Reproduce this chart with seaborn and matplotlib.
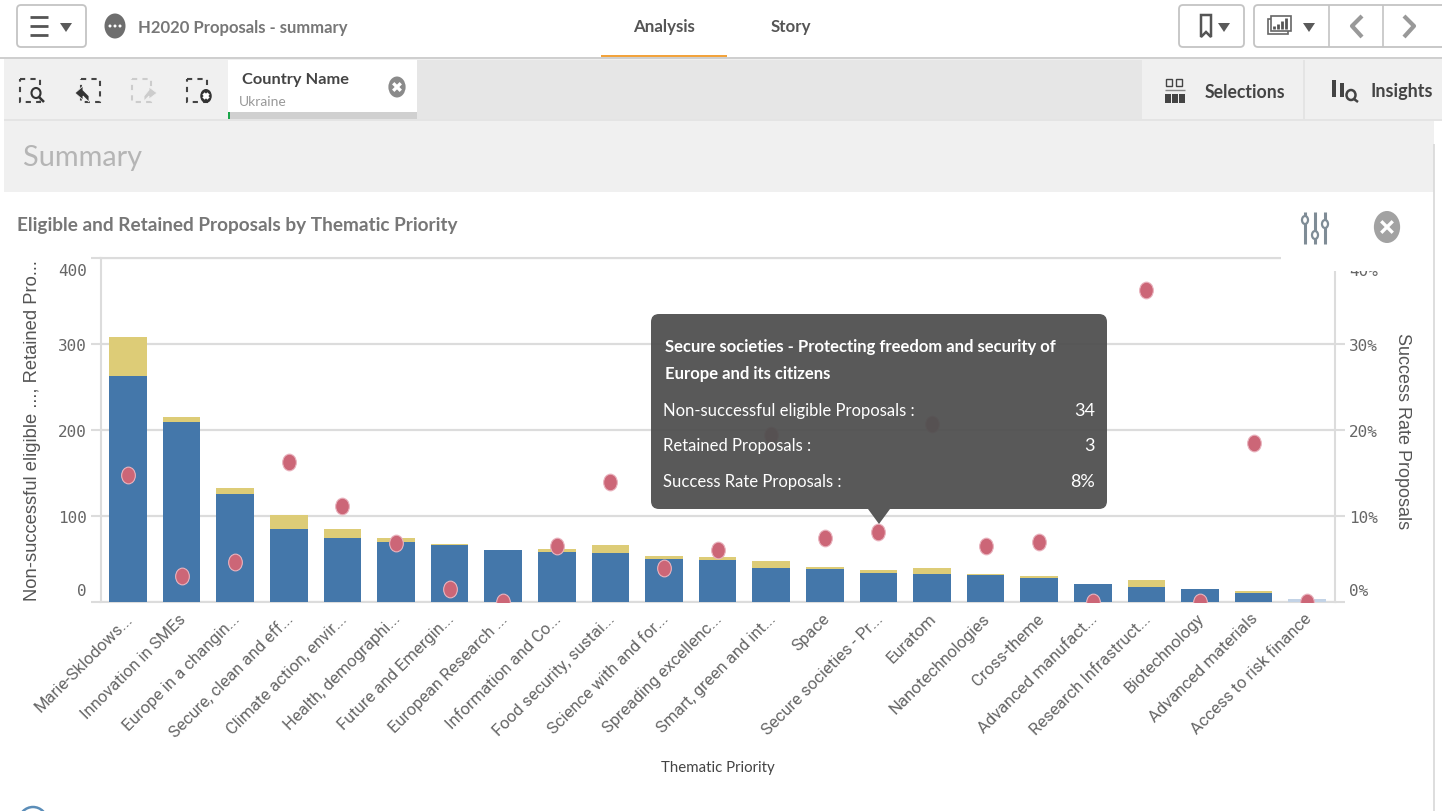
import matplotlib
matplotlib.use('Agg')
import matplotlib.pyplot as plt
from matplotlib.patches import Rectangle, Ellipse, FancyBboxPatch, Polygon
from matplotlib.path import Path
from matplotlib.transforms import Affine2D, ScaledTranslation
import pandas as pd
import seaborn as sns

# Values
priorities = ['Marie-Sklodows...', 'Innovation in SMEs', 'Europe in a changin...',
              'Secure, clean and eff...', 'Climate action, envir...', 'Health, demographi...',
              'Future and Emergin...', 'European Research ...', 'Information and Co...',
              'Food security, sustai...', 'Science with and for...', 'Spreading excellenc...',
              'Smart, green and int...', 'Space', 'Secure societies - Pr...', 'Euratom',
              'Nanotechnologies', 'Cross-theme', 'Advanced manufact...', 'Research Infrastruct...',
              'Biotechnology', 'Advanced materials', 'Access to risk finance']
non_successful = [263, 209, 126, 85, 75, 70, 66, 60, 58, 57, 50, 49, 39, 38, 34, 32, 31, 28, 21, 17, 15, 10, 3]
retained = [45, 6, 6, 16, 10, 5, 1, 0, 4, 9, 3, 3, 9, 3, 3, 8, 2, 2, 0, 9, 0, 3, 0]
success_rate = [14.8, 3.0, 4.6, 16.3, 11.2, 6.9, 1.5, 0, 6.5, 14.0, 4.0, 6.0, 19.4, 7.5, 8.1, 20.7,
                6.5, 7.0, 0, 36.3, 0, 18.5, 0]
left_ticks = [0, 100, 200, 300, 400]
right_ticks = [0, 10, 20, 30, 40]

BLUE = '#4477aa'
FADED = '#c3d3e6'
YELLOW = '#ddcc77'
PINK = '#cc6677'
GRID = '#dcdcdc'
NARROW = ['Lato', 'Roboto']
W, H = 1442, 812

sns.set_theme(style='white')
plt.rcParams['font.family'] = ['Roboto', 'DejaVu Sans']

fig = plt.figure(figsize=(W / 100, H / 100), dpi=100, facecolor='white')
ax = fig.add_axes([101 / W, 1 - 603 / H, (1335 - 101) / W, (603 - 259) / H], zorder=1)

df = pd.DataFrame({'priority': priorities, 'non_successful': non_successful,
                   'retained': retained, 'rate': success_rate})
df['total'] = df['non_successful'] + df['retained']

# stacked look: full height in yellow, lower part in blue on top
sns.barplot(data=df, x='priority', y='total', color=YELLOW, width=0.7, saturation=1,
            linewidth=0, ax=ax, zorder=2)
blue_colors = [BLUE] * (len(priorities) - 1) + [FADED]
sns.barplot(data=df, x='priority', y='non_successful', hue='priority', palette=blue_colors,
            legend=False, width=0.7, saturation=1, linewidth=0, ax=ax, zorder=3)

ax.set_xlim(-0.504, 22.52)
ax.set_ylim(0, 400)
ax.set_yticks(left_ticks)
ax.yaxis.grid(True, color=GRID, lw=1.6, zorder=0)
ax.set_axisbelow(True)
for s in ax.spines.values():
    s.set_color(GRID)
    s.set_linewidth(1.5)
ax.tick_params(axis='y', length=7, width=1.5, color=GRID, labelsize=11.5, labelcolor='#666666', pad=3)
ax.tick_params(axis='x', length=0, pad=6)
ax.set_xticks(range(len(priorities)))
ax.set_xticklabels(priorities, rotation=45, ha='right', rotation_mode='anchor',
                   fontsize=12, color='#666666')
for t in ax.get_xticklabels():
    t.set_transform(t.get_transform() + ScaledTranslation(-3 / 100, 0, fig.dpi_scale_trans))
for t in ax.get_yticklabels():
    t.set_family('DejaVu Sans Mono')
ax.set_xlabel('Thematic Priority', fontsize=10.8, color='#444444', family=NARROW)
ax.xaxis.set_label_coords((718 - 101) / (1335 - 101), -(768 - 603) / 344, transform=ax.transAxes)
ax.xaxis.label.set_va('center')
ax.set_ylabel('Non-successful eligible ..., Retained Pro...', fontsize=13.2, color='#555555',
              family='Liberation Sans', va='center')
ax.yaxis.set_label_coords((33 - 101) / (1335 - 101), 0.5, transform=ax.transAxes)

ax2 = ax.twinx()
ax2.set_zorder(2)
ax2.patch.set_visible(False)
dot = Path.unit_circle().transformed(Affine2D().scale(0.82, 1))
sns.scatterplot(data=df, x='priority', y='rate', marker=dot, s=145, color=PINK,
                edgecolor='#e9b4bf', linewidth=0.8, ax=ax2, zorder=4)
ax2.set_xlim(-0.504, 22.52)
ax2.set_ylim(0, 40)
ax2.set_yticks(right_ticks)
ax2.set_yticklabels([f'{v}%' for v in right_ticks], family='DejaVu Sans Mono')
ax2.tick_params(axis='y', length=7, width=1.5, color=GRID, labelsize=11.5, labelcolor='#666666', pad=3)
for s in ax2.spines.values():
    s.set_visible(False)
ax2.set_ylabel('Success Rate Proposals', fontsize=13, color='#555555', rotation=-90,
               family='Liberation Sans', va='center')
ax2.yaxis.set_label_coords((1402 - 101) / (1335 - 101), (603 - 431) / 344, transform=ax2.transAxes)

# Qlik pushes the first and last value labels inside the axis
for a in (ax, ax2):
    labels = a.get_yticklabels()
    labels[0].set_transform(labels[0].get_transform() + ScaledTranslation(0, 13 / 100, fig.dpi_scale_trans))
    labels[-1].set_transform(labels[-1].get_transform() + ScaledTranslation(0, -11 / 100, fig.dpi_scale_trans))

# Page furniture in pixel coordinates
ui = fig.add_axes([0, 0, 1, 1], zorder=5)
ui.set_xlim(0, W)
ui.set_ylim(H, 0)
ui.axis('off')


def box(x0, y0, x1, y1, color, z=1):
    ui.add_patch(Rectangle((x0, y0), x1 - x0, y1 - y0, fc=color, ec='none', zorder=z))


def rbox(x0, y0, x1, y1, fc='white', ec='#c4c4c4', r=4, z=2, alpha=None):
    ui.add_patch(FancyBboxPatch((x0 + r, y0 + r), x1 - x0 - 2 * r, y1 - y0 - 2 * r,
                                boxstyle=f'round,pad={r},rounding_size={r}', fc=fc, ec=ec, lw=1.3,
                                zorder=z, alpha=alpha))


def line(xs, ys, color='#555555', lw=1.5, z=3, **kw):
    ui.plot(xs, ys, color=color, lw=lw, zorder=z, solid_capstyle='butt', **kw)


def caret(cx, cy, color='#5a5a5a'):
    ui.add_patch(Polygon([(cx - 6, cy - 4), (cx + 6, cy - 4), (cx, cy + 5)], fc=color, ec='none', zorder=3))


def close_icon(cx, cy, r, color):
    ui.add_patch(Ellipse((cx, cy), 2 * r * 0.82, 2 * r, fc=color, ec='none', zorder=3))
    d = r * 0.36
    line([cx - d, cx + d], [cy - d, cy + d], 'white', 2.4, 4)
    line([cx - d, cx + d], [cy + d, cy - d], 'white', 2.4, 4)


def label(x, y, s, size, color, weight='normal', ha='left', z=4):
    ui.text(x, y + 1, s, fontsize=size, color=color, fontweight=weight, ha=ha, va='center',
            family=NARROW, zorder=z)


def dashed_square(x0, y0, x1, y1, color='#444444'):
    ui.add_patch(Rectangle((x0, y0), x1 - x0, y1 - y0, fc='none', ec=color, lw=1.5,
                           ls=(0, (2.5, 2.5)), zorder=3))


# top bar
box(0, 58, W, 60, '#cfcfcf')
rbox(17, 6, 86, 48)
for y in (18, 27, 36):
    line([30, 48], [y, y], '#555555', 2)
caret(66, 28)
ui.add_patch(Ellipse((115, 27), 21, 25, fc='#6e6e6e', ec='none', zorder=3))
for x in (110, 115, 120):
    ui.add_patch(Ellipse((x, 27), 3, 3, fc='white', ec='none', zorder=4))
label(138, 27, 'H2020 Proposals - summary', 12, '#777777', 'bold')
label(664, 26, 'Analysis', 12.2, '#555555', 'bold', 'center')
label(791, 26, 'Story', 12.2, '#555555', 'bold', 'center')
box(601, 56, 727, 58, '#f2a33c', 3)
rbox(1179, 6, 1244, 48)
ui.add_patch(Polygon([(1201, 16), (1211, 16), (1211, 38), (1206, 33), (1201, 38)], fc='white', ec='#555555', lw=1.8, zorder=3))
caret(1224, 28)
rbox(1254, 6, 1450, 48)
line([1329, 1329], [6, 48], '#c4c4c4', 1.2)
line([1383, 1383], [6, 48], '#c4c4c4', 1.2)
ui.add_patch(Rectangle((1268, 20), 20, 15, fc='white', ec='#666666', lw=1.2, zorder=3))
ui.add_patch(Rectangle((1271, 17), 20, 15, fc='white', ec='#666666', lw=1.2, zorder=3))
for x, top in zip((1274, 1278, 1282, 1286), (27, 25, 22, 19)):
    line([x, x], [30, top], '#555555', 2, 4)
caret(1309, 28)
line([1362, 1352, 1362], [17, 27, 38], '#999999', 3)
line([1404, 1414, 1404], [17, 27, 38], '#999999', 3)

# selection bar
box(4, 60, W, 120, '#f0f0f0')
box(417, 61, 1142, 120, '#e6e6e6', 2)
box(228, 61, 417, 113, 'white', 2)
box(228, 113, 417, 120, '#d0d0d0', 2)
box(228, 113, 230, 120, '#1aa64a', 3)
box(4, 120, W, 122, '#e4e4e4', 2)
line([1304, 1304], [61, 120], '#e2e2e2', 1.2)
dashed_square(20, 80, 40, 103)
ui.add_patch(Ellipse((36, 94), 9, 10, fc='#f0f0f0', ec='#333333', lw=1.5, zorder=4))
line([39, 44], [98, 103], '#333333', 1.8, 4)
dashed_square(81, 80, 100, 103)
ui.add_patch(Polygon([(75, 94), (83, 87), (83, 91), (89, 97), (89, 103), (83, 97), (83, 101)],
                     fc='#333333', ec='#f0f0f0', lw=0.6, zorder=4))
dashed_square(132, 80, 151, 103, '#cccccc')
ui.add_patch(Polygon([(157, 94), (149, 88), (149, 91), (144, 97), (144, 102), (149, 97), (149, 100)],
                     fc='#cccccc', ec='#f0f0f0', lw=0.6, zorder=4))
dashed_square(187, 80, 207, 103)
close_icon(206, 97, 7, '#333333')
label(242, 79, 'Country Name', 11.8, '#444444', 'bold')
label(239, 101, 'Ukraine', 10, '#999999')
close_icon(397, 88, 10.5, '#8a8a8a')
for x in (1166, 1176):
    ui.add_patch(Rectangle((x, 80), 6, 7, fc='none', ec='#444444', lw=1, zorder=3))
line([1165, 1185], [91, 91], '#888888', 1)
for x in (1165, 1172, 1179):
    box(x, 95, x + 6, 104, '#444444', 3)
label(1205, 92, 'Selections', 12.7, '#444444', 'bold')
box(1332, 81, 1336, 98, '#444444', 3)
box(1340, 84, 1344, 98, '#444444', 3)
ui.add_patch(Ellipse((1351, 96), 9, 10, fc='none', ec='#444444', lw=1.8, zorder=3))
line([1354, 1358], [100, 103], '#444444', 1.8)
label(1370, 91, 'Insights', 13, '#444444', 'bold')

# summary band and chart header
box(4, 122, 1434, 193, '#f0f0f0')
label(23, 157, 'Summary', 20.8, '#b5b5b5')
box(1281, 193, W, 272, 'white', 1)
box(1434, 122, W, H, 'white', 1)
line([1434, 1434], [145, H], '#d8d8d8', 1.2, 2)
label(17, 225, 'Eligible and Retained Proposals by Thematic Priority', 13.7, '#777777', 'bold')
for x, knob in zip((1305, 1315, 1325), (221, 236, 225)):
    line([x, x], [213, 245], '#7f8c96', 2.2)
    ui.add_patch(Ellipse((x, knob), 6, 8, fc='white', ec='#7f8c96', lw=1.6, zorder=4))
close_icon(1387, 228, 16, '#a2a2a2')
ui.add_patch(Ellipse((33, 822), 28, 28, fc='white', ec='#5b8db8', lw=1.8, zorder=3))

# tooltip
TIP = '#505050'
rbox(651, 315, 1107, 510, fc=TIP, ec='none', r=8, z=6, alpha=0.95)
ui.add_patch(Polygon([(868, 510), (890, 510), (879, 525)], fc=TIP, ec='none', zorder=6, alpha=0.95))
label(665, 346, 'Secure societies - Protecting freedom and security of', 12, 'white', 'bold', z=7)
label(665, 373, 'Europe and its citizens', 12, 'white', 'bold', z=7)
rows = [('Non-successful eligible Proposals :', '34', 410), ('Retained Proposals :', '3', 445),
        ('Success Rate Proposals :', '8%', 481)]
for name, val, y in rows:
    label(663, y, name, 12, 'white', z=7)
    label(1095, y, val, 13, 'white', ha='right', z=7)

fig.savefig('out.png', dpi=100)
